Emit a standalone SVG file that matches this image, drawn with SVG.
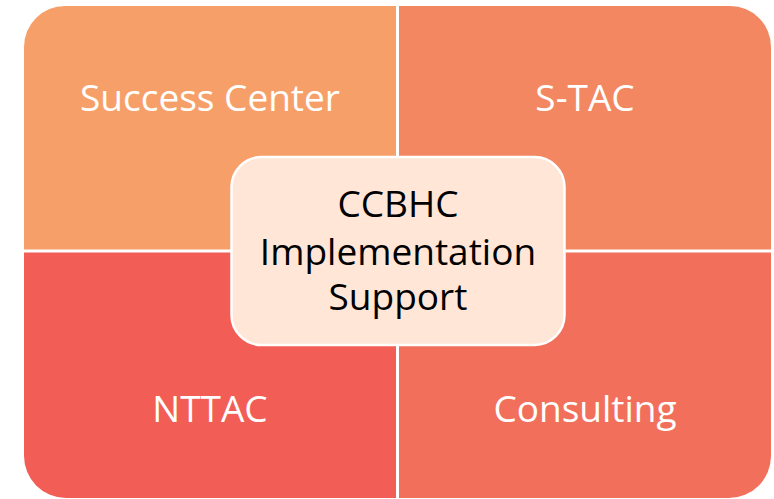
<svg xmlns="http://www.w3.org/2000/svg" width="774" height="499" viewBox="0 0 774 499">
<style>
.lbl{font-family:"Open Sans","Noto Sans","Liberation Sans",sans-serif;font-size:37px;fill:#ffffff;text-anchor:middle}
.ctr{font-family:"Open Sans","Noto Sans","Liberation Sans",sans-serif;font-size:37px;fill:#000000;text-anchor:middle}
</style>
<rect width="774" height="499" fill="#ffffff"/>
<g id="success-center">
<path d="M24,249.5 V47 A41,41 0 0 1 65,6 H396 V249.5 Z" fill="#F79F69"/>
<text class="lbl" x="210" y="111">Success Center</text>
</g>
<g id="s-tac">
<path d="M399,6 H730 A41,41 0 0 1 771,47 V249.5 H399 Z" fill="#F38762"/>
<text class="lbl" x="585" y="111">S-TAC</text>
</g>
<g id="nttac">
<path d="M24,252.5 H396 V498 H66 A42,42 0 0 1 24,456 Z" fill="#F25E56"/>
<text class="lbl" x="210" y="422">NTTAC</text>
</g>
<g id="consulting">
<path d="M399,252.5 H771 V456 A42,42 0 0 1 729,498 H399 Z" fill="#F2705B"/>
<text class="lbl" x="585" y="422">Consulting</text>
</g>
<g id="connectors"></g>
<g id="ccbhc-implementation-support">
<rect x="231.5" y="157" width="333" height="188" rx="30" ry="30" fill="#FFE6D6" stroke="#ffffff" stroke-width="2.5"/>
<text class="ctr" x="398" y="217">CCBHC</text>
<text class="ctr" x="398" y="265">Implementation</text>
<text class="ctr" x="398" y="310">Support</text>
</g>
</svg>
